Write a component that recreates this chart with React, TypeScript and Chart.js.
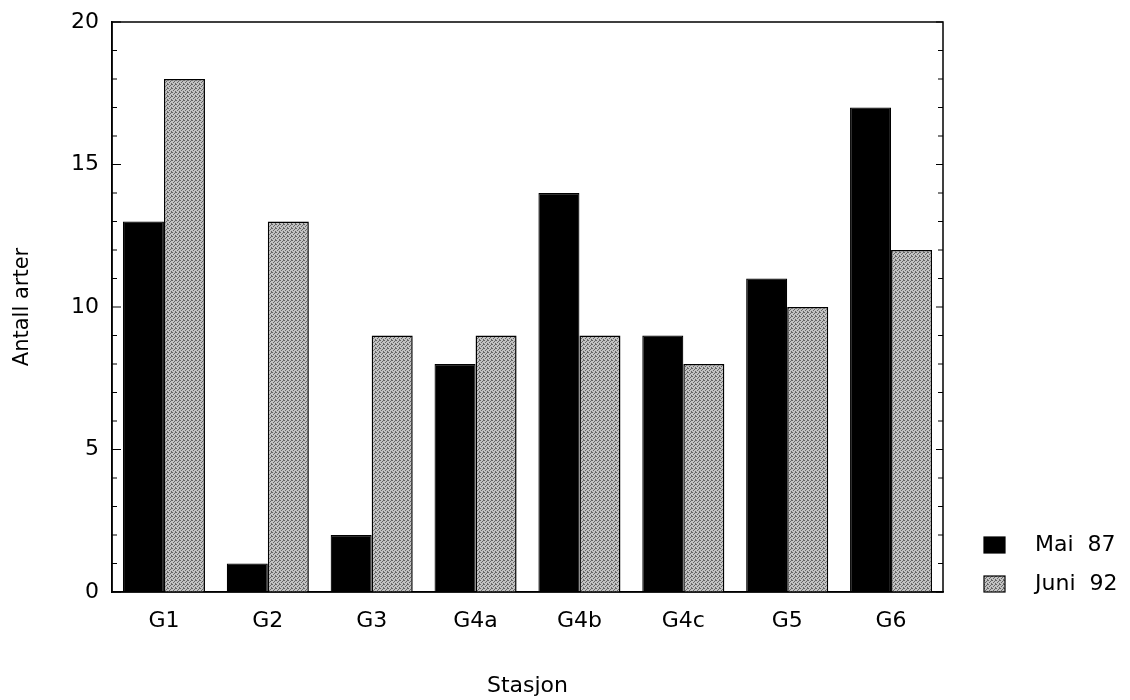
import React, { useEffect, useRef } from "react";
import { Chart, registerables } from "chart.js";

Chart.register(...registerables);

const categories = ["G1", "G2", "G3", "G4a", "G4b", "G4c", "G5", "G6"];
const mai87 = [13, 1, 2, 8, 14, 9, 11, 17];
const juni92 = [18, 13, 9, 9, 9, 8, 10, 12];
const seriesLabels = ["Mai  87", "Juni  92"];
const yMajorTicks = [0, 5, 10, 15, 20];
const yMinorTicks = [0, 1, 2, 3, 4, 5, 6, 7, 8, 9, 10, 11, 12, 13, 14, 15, 16, 17, 18, 19, 20];
const xTitle = "Stasjon";
const yTitle = "Antall arter";

const FONT = "'DejaVu Sans', 'Liberation Sans', Arial, sans-serif";

function makeStipple(): CanvasPattern | string {
  const c = document.createElement("canvas");
  c.width = 4;
  c.height = 4;
  const g = c.getContext("2d");
  if (!g) return "#a8a8a8";
  g.fillStyle = "#c2c2c2";
  g.fillRect(0, 0, 4, 4);
  g.fillStyle = "#666666";
  const dots = [
    [0, 0], [2, 1], [1, 2], [3, 3], [3, 0],
  ];
  dots.forEach(([x, y]) => g.fillRect(x, y, 1, 1));
  const p = g.createPattern(c, "repeat");
  return p || "#a8a8a8";
}

const framePlugin = {
  id: "frameAndLegend",
  afterDraw(chart: any) {
    const { ctx, chartArea: a } = chart;
    const y = chart.scales.y;
    ctx.save();
    ctx.strokeStyle = "#000";
    ctx.lineWidth = 1.5;
    ctx.strokeRect(a.left, a.top, a.right - a.left, a.bottom - a.top);
    ctx.lineWidth = 1.2;
    yMinorTicks.forEach((v) => {
      const py = y.getPixelForValue(v);
      const major = yMajorTicks.includes(v);
      ctx.beginPath();
      ctx.moveTo(a.left, py);
      ctx.lineTo(a.left + (major ? 9 : 5), py);
      ctx.moveTo(a.right, py);
      ctx.lineTo(a.right - (major ? 7 : 5), py);
      ctx.stroke();
    });
    // legend
    const ds = chart.data.datasets;
    const rowsY = [545, 584];
    ds.forEach((d: any, i: number) => {
      const cy = rowsY[i];
      const bx = a.right + 41;
      ctx.fillStyle = d.backgroundColor;
      ctx.fillRect(bx, cy - 8, 21, 16);
      ctx.strokeStyle = "#000";
      ctx.lineWidth = 1.2;
      ctx.strokeRect(bx, cy - 8, 21, 16);
      ctx.fillStyle = "#000";
      ctx.font = `22px ${FONT}`;
      ctx.textBaseline = "middle";
      ctx.textAlign = "left";
      ctx.fillText(d.label, a.right + 92, cy);
    });
    ctx.restore();
  },
};

export default function App() {
  const ref = useRef<HTMLCanvasElement | null>(null);
  useEffect(() => {
    if (!ref.current) return;
    const gray = makeStipple();
    const chart = new Chart(ref.current, {
      type: "bar",
      data: {
        labels: categories,
        datasets: [
          {
            label: seriesLabels[0],
            data: mai87,
            backgroundColor: "#000000",
            borderColor: "#000000",
            borderWidth: 1.2,
            categoryPercentage: 0.79,
            barPercentage: 1.0,
          },
          {
            label: seriesLabels[1],
            data: juni92,
            backgroundColor: gray as any,
            borderColor: "#000000",
            borderWidth: 1.5,
            categoryPercentage: 0.79,
            barPercentage: 1.0,
          },
        ],
      },
      options: {
        animation: false,
        responsive: true,
        maintainAspectRatio: false,
        layout: { padding: { top: 22, right: 187, left: 0, bottom: 0 } },
        plugins: {
          legend: { display: false },
          tooltip: { enabled: false },
        },
        scales: {
          x: {
            grid: { display: false, drawTicks: false },
            border: { display: true, color: "#000", width: 1.5 },
            ticks: { color: "#000", font: { family: FONT, size: 22 }, padding: 16, maxRotation: 0 },
            title: {
              display: true,
              text: xTitle,
              color: "#000",
              font: { family: FONT, size: 22 },
              padding: { top: 0, bottom: 1 },
            },
            afterFit: (s: any) => {
              s.height = 108;
              s.paddingLeft = 0;
              s.paddingRight = 0;
            },
          },
          y: {
            min: 0,
            max: 20,
            grid: { display: false, drawTicks: false },
            border: { display: true, color: "#000", width: 1.5 },
            ticks: {
              stepSize: 5,
              color: "#000",
              font: { family: FONT, size: 22 },
              padding: 13,
            },
            title: {
              display: true,
              text: yTitle,
              color: "#000",
              font: { family: FONT, size: 21 },
              padding: { top: 10, bottom: 0 },
            },
            afterFit: (s: any) => {
              s.width = 112;
              s.paddingTop = 0;
              s.paddingBottom = 0;
            },
          },
        },
      },
      plugins: [framePlugin],
    });
    return () => chart.destroy();
  }, []);
  return (
    <div style={{ position: "fixed", left: 0, top: 0, width: 1130, height: 700, background: "#fff" }}>
      <canvas ref={ref} />
    </div>
  );
}
